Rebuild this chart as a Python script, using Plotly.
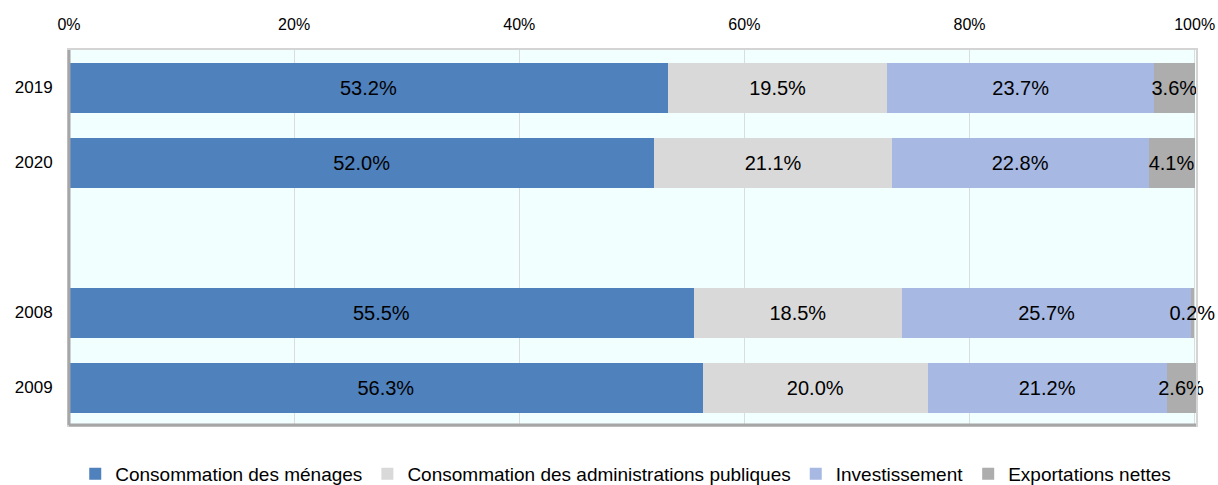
import plotly.graph_objects as go

years = ['2019', '2020', ' ', '2008', '2009']
menages = [53.2, 52.0, None, 55.5, 56.3]
admin = [19.5, 21.1, None, 18.5, 20.0]
invest = [23.7, 22.8, None, 25.7, 21.2]
export = [3.6, 4.1, None, 0.2, 2.6]

series = [
    ('Consommation des ménages', menages, '#4F81BD'),
    ('Consommation des administrations publiques', admin, '#D9D9D9'),
    ('Investissement', invest, '#A7B9E3'),
    ('Exportations nettes', export, '#ADADAD'),
]

font = 'Liberation Sans Narrow, Arial Narrow, Liberation Sans, Arial'

fig = go.Figure()
for name, vals, color in series:
    fig.add_trace(go.Bar(
        y=years, x=vals, name=name, orientation='h',
        marker=dict(color=color, line=dict(width=0)),
        text=[f'{v:.1f}%' if v is not None else '' for v in vals],
        textposition='inside', insidetextanchor='middle', textangle=0,
        constraintext='none', cliponaxis=False,
        textfont=dict(family=font, size=20, color='black'),
    ))

fig.update_layout(
    barmode='stack', bargap=1/3,
    width=1218, height=506,
    margin=dict(l=69, r=22, t=50, b=81),
    paper_bgcolor='white', plot_bgcolor='#F2FFFF',
    font=dict(family=font, size=17, color='black'),
    showlegend=True,
    legend=dict(orientation='h', x=0.494, xanchor='center', y=-68/375, yanchor='bottom',
                font=dict(family=font, size=19), traceorder='normal',
                itemwidth=30),
)
fig.update_xaxes(
    side='top', range=[0, 100.12], tickvals=[0, 20, 40, 60, 80, 100],
    ticktext=['0%', '20%', '40%', '60%', '80%', '100%'],
    showgrid=True, gridcolor='#DCDCDC', gridwidth=1,
    showline=True, linecolor='#D4D4D4', linewidth=2, mirror=True,
    ticks='outside', ticklen=12, tickcolor='rgba(0,0,0,0)',
    zeroline=False, tickfont=dict(size=16), automargin=False,
    ticklabeloverflow='allow',
)
fig.update_yaxes(
    autorange='reversed', type='category',
    showline=True, linecolor='#D4D4D4', linewidth=2, mirror=True,
    ticks='outside', ticklen=11, tickcolor='rgba(0,0,0,0)',
    tickfont=dict(size=17), showgrid=False, automargin=False,
)
# darker left and bottom frame edges
fig.add_shape(type='line', xref='paper', yref='paper', x0=0, x1=1, y0=0, y1=0,
              line=dict(color='#A6A6A6', width=3))
fig.add_shape(type='line', xref='paper', yref='paper', x0=0, x1=0, y0=0, y1=1,
              line=dict(color='#A6A6A6', width=3))

# no page margin / scrollbars around the figure
fig.write_html('out.html', config={'displayModeBar': False},
               post_script="document.body.style.margin='0';document.body.style.overflow='hidden';")
